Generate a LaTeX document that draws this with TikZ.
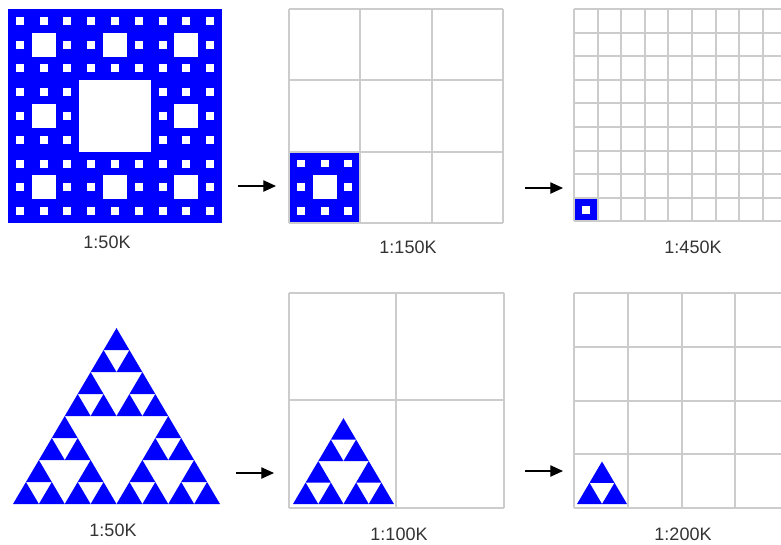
\documentclass[tikz,border=0pt]{standalone}
\usepackage{fontspec}
\setmainfont{Liberation Sans}
\usetikzlibrary{arrows.meta}

% Sierpinski carpet holes: x, y, size, level
\newcommand{\carpetholes}[4]{%
  \ifnum#4>0
    \pgfmathsetmacro{\hs}{#3/3}%
    \fill[white] (#1+\hs,#2+\hs) rectangle ++(\hs,\hs);
    \pgfmathtruncatemacro{\lv}{#4-1}%
    \foreach \cu/\cv in {0/0,1/0,2/0,0/1,2/1,0/2,1/2,2/2}{%
      \pgfmathsetmacro{\nx}{#1+\cu*\hs}%
      \pgfmathsetmacro{\ny}{#2+\cv*\hs}%
      \carpetholes{\nx}{\ny}{\hs}{\lv}%
    }%
  \fi}
\newcommand{\carpet}[4]{%
  \fill[fractal] (#1,#2) rectangle ++(#3,#3);
  \carpetholes{#1}{#2}{#3}{#4}}

% Sierpinski triangle: x, y (bottom left), width, level
\newcommand{\sierp}[4]{%
  \ifnum#4=0
    \fill[fractal] (#1,#2) -- ++(#3,0) -- ++(-#3/2,-0.85*#3) -- cycle;
  \else
    \pgfmathsetmacro{\hw}{#3/2}%
    \pgfmathtruncatemacro{\tl}{#4-1}%
    \foreach \cu/\cv in {0/0,2/0,1/1}{%
      \pgfmathsetmacro{\tx}{#1+\cu*\hw/2}%
      \pgfmathsetmacro{\ty}{#2-\cv*0.85*\hw}%
      \sierp{\tx}{\ty}{\hw}{\tl}%
    }%
  \fi}

% Tile grid: x, y (top left), cell, columns, rows
\newcommand{\tilegrid}[5]{%
  \foreach \k in {0,...,#4}
    \draw[gridline] (#1+\k*#3,#2) -- ++(0,#5*#3);
  \foreach \k in {0,...,#5}
    \draw[gridline] (#1,#2+\k*#3) -- ++(#4*#3,0);}

\begin{document}
\begin{tikzpicture}[
  x=0.75pt, y=-0.75pt,
  fractal/.style={fill=blue},
  gridline/.style={draw=black!20, line width=1.5pt},
  scalelabel/.style={text=black!80, font=\fontsize{13.5}{16}\selectfont, inner sep=0pt},
  arrow/.style={-{Triangle[length=9.5pt,width=8.5pt]}, line width=0.9pt}
]
\useasboundingbox (0,0) rectangle (781,544);
\clip (0,0) rectangle (781,544);

% Carpets
\carpet{8}{9}{214}{3}
\carpet{289}{151.6}{71.3}{2}
\carpet{574}{197.8}{23.6}{1}
\tilegrid{289}{9}{71.3}{3}{3}
\tilegrid{574}{9}{23.6}{9}{9}

% Triangles
\sierp{13}{504}{207}{3}
\sierp{293}{504}{101}{2}
\sierp{577}{504}{50}{1}
\tilegrid{289}{293}{107.4}{2}{2}
\tilegrid{574}{293}{53.8}{4}{4}

% Labels
\node[scalelabel] (c1) at (107,242) {1:50K};
\node[scalelabel] (c2) at (408,247) {1:150K};
\node[scalelabel] (c3) at (693,247) {1:450K};
\node[scalelabel] (t1) at (113,530) {1:50K};
\node[scalelabel] (t2) at (399,534) {1:100K};
\node[scalelabel] (t3) at (683,534) {1:200K};

% Pointers
\coordinate (p1) at (238,186);
\coordinate (q1) at (276,186);
\coordinate (p2) at (525,188);
\coordinate (q2) at (563,188);
\coordinate (p3) at (236,473);
\coordinate (q3) at (274,473);
\coordinate (p4) at (525,471);
\coordinate (q4) at (563,471);
\draw[arrow] (p1) -- (q1);
\draw[arrow] (p2) -- (q2);
\draw[arrow] (p3) -- (q3);
\draw[arrow] (p4) -- (q4);
\end{tikzpicture}
\end{document}
